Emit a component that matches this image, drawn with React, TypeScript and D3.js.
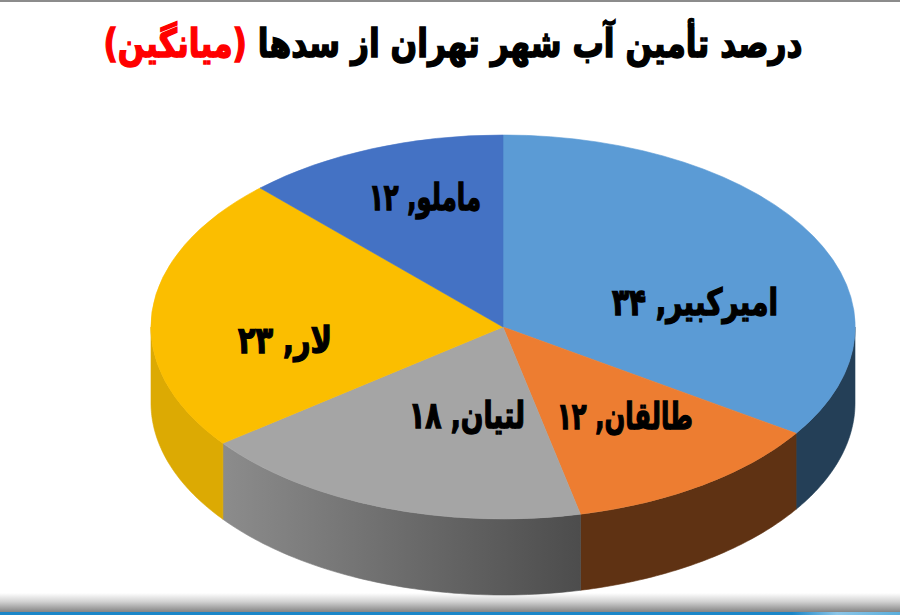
import * as d3 from "d3";

const dams = ["امیرکبیر", "طالقان", "لتیان", "لار", "ماملو"];
const shares = [34, 12, 18, 23, 12];
const shareLabels = ["۳۴", "۱۲", "۱۸", "۲۳", "۱۲"];
const titleMain = "درصد تأمین آب شهر تهران از سدها";
const titleNote = "(میانگین)";

const topColors = ["#5b9bd5", "#ed7d31", "#a5a5a5", "#fbbe00", "#4472c4"];
const wallColors = ["#243f57", "#5f3213", "url(#grayWall)", "#dcaa03", "#2a4578"];

const width = 900, height = 615;
const cx = 503, cy = 327, rx = 352, ry = 192, depth = 76;
const font = "'DejaVu Sans', sans-serif";

// label centres, placed by hand like in the original slide
const labelPos = [[695, 302], [625, 416], [467, 415], [285, 340], [425, 197]];
const labelWidth = [166, 136, 116, 94, 112];

const App = () => {
    const slices = d3.pie<number>().sort(null)(shares);
    const unitArc = d3.arc<d3.PieArcDatum<number>>().innerRadius(0).outerRadius(1);

    // front rim of the pie, only the part between 90 and 270 degrees shows
    const wall = (a0: number, a1: number) => {
        const from = Math.max(a0, Math.PI / 2), to = Math.min(a1, (3 * Math.PI) / 2);
        if (to <= from) return null;
        const angles = d3.range(0, 61).map(i => from + ((to - from) * i) / 60);
        const line = d3.line<[number, number]>();
        const upper = angles.map(a => [cx + rx * Math.sin(a), cy - ry * Math.cos(a)] as [number, number]);
        const lower = upper.map(p => [p[0], p[1] + depth] as [number, number]).reverse();
        return line([...upper, ...lower]) + "Z";
    };

    return (
        <svg width={width} height={height} style={{ position: "absolute", left: 0, top: 0, background: "#ffffff" }}>
            <defs>
                <linearGradient id="grayWall" gradientUnits="userSpaceOnUse" x1={222} x2={583} y1={0} y2={0}>
                    <stop offset="0" stopColor="#8c8c8c" />
                    <stop offset="1" stopColor="#4c4c4c" />
                </linearGradient>
                <linearGradient id="band" x1="0" x2="0" y1="0" y2="1">
                    <stop offset="0" stopColor="#ffffff" />
                    <stop offset="0.45" stopColor="#d2d2d2" />
                    <stop offset="1" stopColor="#858585" />
                </linearGradient>
                <linearGradient id="strip" x1="0" x2="1" y1="0" y2="0">
                    <stop offset="0.88" stopColor="#1a86c8" />
                    <stop offset="0.93" stopColor="#8cc6e8" />
                    <stop offset="1" stopColor="#5aaedc" />
                </linearGradient>
            </defs>

            <rect x={0} y={0} width={width} height={2} fill="#8c8c8c" />
            <rect x={0} y={593} width={width} height={19} fill="url(#band)" />
            <rect x={0} y={612} width={width} height={3} fill="url(#strip)" />

            {/* title font is narrow and tall in the original, so stretch it upward */}
            <text transform="translate(453,57) scale(1,1.18)" textAnchor="middle" direction="rtl" fontFamily={font}
                fontWeight="bold" fontSize={33} strokeWidth={1.3} textLength={699} lengthAdjust="spacingAndGlyphs">
                <tspan fill="#000" stroke="#000">{titleMain}</tspan>
                <tspan fill="#ff0000" stroke="#ff0000">{"\u00a0" + titleNote}</tspan>
            </text>

            {slices.map((s, i) => {
                const d = wall(s.startAngle, s.endAngle);
                return d ? <path key={i} d={d} fill={wallColors[i]} stroke={wallColors[i]} strokeWidth={0.6} /> : null;
            })}
            <g transform={`translate(${cx},${cy}) scale(${rx},${ry})`}>
                {slices.map((s, i) => (
                    <path key={i} d={unitArc(s) as string} fill={topColors[i]}
                        stroke={topColors[i]} strokeWidth={0.6} vectorEffect="non-scaling-stroke" />
                ))}
            </g>

            {dams.map((name, i) => (
                <text key={name} x={labelPos[i][0]} y={labelPos[i][1]} dy="0.35em" textAnchor="middle" direction="rtl"
                    fontFamily={font} fontWeight="bold" fontSize={37} fill="#000" stroke="#000" strokeWidth={1.4}
                    textLength={labelWidth[i]} lengthAdjust="spacingAndGlyphs">
                    {`${name}, ${shareLabels[i]}`}
                </text>
            ))}
        </svg>
    );
};

export default App;
